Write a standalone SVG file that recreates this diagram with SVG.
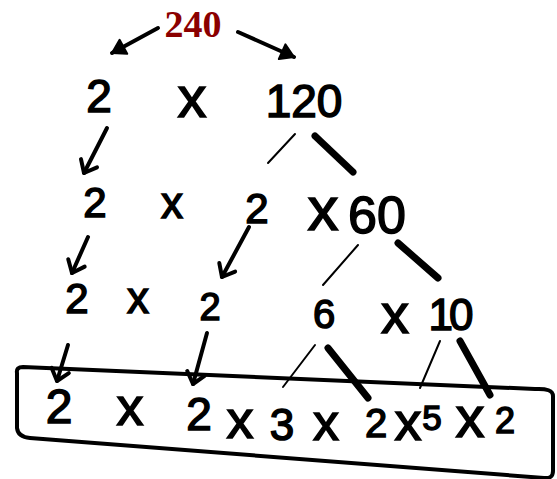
<svg xmlns="http://www.w3.org/2000/svg" width="557" height="479" viewBox="0 0 557 479">
<defs>
<marker id="ah" markerUnits="userSpaceOnUse" markerWidth="30" markerHeight="30" viewBox="-15 -15 30 30" refX="0" refY="0" orient="auto">
<path d="M -11 -9 L 0 0 L -11 9" fill="none" stroke="#000" stroke-width="4" stroke-linecap="round" stroke-linejoin="round"/>
</marker>
<marker id="ahf" markerUnits="userSpaceOnUse" markerWidth="30" markerHeight="30" viewBox="-15 -15 30 30" refX="0" refY="0" orient="auto">
<path d="M -13 -8 L 0 0 L -13 8 Z" fill="#000" stroke="#000" stroke-width="2" stroke-linejoin="round"/>
</marker>
</defs>
<style>
text{font-family:"Liberation Sans",Arial,sans-serif;fill:#000;text-anchor:middle;stroke:#000;stroke-width:1.5}
.top{font-family:"Liberation Serif","Times New Roman",serif;font-weight:bold;fill:#8b0000;stroke:none}
.arr{stroke:#000;stroke-width:4;stroke-linecap:round;fill:none}
.thin{stroke:#000;stroke-width:2;stroke-linecap:round;fill:none}
.thick{stroke:#000;stroke-width:7;stroke-linecap:round;fill:none}
.box{stroke:#000;stroke-width:4;fill:none;stroke-linejoin:round}
</style>
<g id="root"><text class="top" x="193" y="37" font-size="38">240</text></g>
<g id="row1">
<text x="99" y="112" font-size="46">2</text>
<text x="192" y="117" font-size="58">x</text>
<text x="304" y="117" font-size="46">120</text>
</g>
<g id="row2">
<text x="95" y="217" font-size="42">2</text>
<text x="172" y="218" font-size="44">x</text>
<text x="257" y="223" font-size="42">2</text>
<text x="323" y="230" font-size="62">x</text>
<text x="377" y="233" font-size="52">60</text>
</g>
<g id="row3">
<text x="77" y="313" font-size="42">2</text>
<text x="138" y="313" font-size="44">x</text>
<text x="210" y="320" font-size="38">2</text>
<text x="324" y="328" font-size="40">6</text>
<text x="395" y="333" font-size="56">x</text>
<text x="449" y="330" font-size="44" letter-spacing="-4">10</text>
</g>
<g id="result">
<path class="box" d="M 17 373 Q 16 367 23 367 L 535 389 Q 553 388 553 396 L 553 471 Q 553 479 544 478 L 30 438 Q 18 437 17 428 Z"/>
<text x="59" y="423" font-size="48">2</text>
<text x="130" y="425" font-size="54">x</text>
<text x="199" y="430" font-size="46">2</text>
<text x="240" y="438" font-size="54">x</text>
<text x="282" y="440" font-size="44">3</text>
<text x="326" y="440" font-size="52">x</text>
<text x="376" y="437" font-size="40">2</text>
<text x="408" y="440" font-size="54">x</text>
<text x="432" y="430" font-size="35">5</text>
<text x="470" y="437" font-size="58">x</text>
<text x="505" y="433" font-size="36">2</text>
</g>
<g id="connectors">
<line class="arr" x1="158" y1="28" x2="112" y2="53" marker-end="url(#ahf)"/>
<line class="arr" x1="238" y1="32" x2="294" y2="57" marker-end="url(#ahf)"/>
<line class="arr" x1="107" y1="128" x2="84" y2="173" marker-end="url(#ah)"/>
<line class="thin" x1="295" y1="134" x2="268" y2="163"/>
<line class="thick" x1="315" y1="136" x2="353" y2="172"/>
<line class="arr" x1="88" y1="237" x2="72" y2="273" marker-end="url(#ah)"/>
<line class="arr" x1="249" y1="227" x2="222" y2="277" marker-end="url(#ah)"/>
<line class="thin" x1="358" y1="245" x2="323" y2="285"/>
<line class="thick" x1="398" y1="243" x2="438" y2="278"/>
<line class="arr" x1="68" y1="345" x2="57" y2="381" marker-end="url(#ah)"/>
<line class="arr" x1="207" y1="333" x2="193" y2="384" marker-end="url(#ah)"/>
<line class="thin" x1="315" y1="345" x2="283" y2="387"/>
<line class="thick" x1="328" y1="348" x2="368" y2="398"/>
<line class="thin" x1="440" y1="341" x2="420" y2="388"/>
<line class="thick" x1="460" y1="341" x2="490" y2="395"/>
</g>
</svg>
